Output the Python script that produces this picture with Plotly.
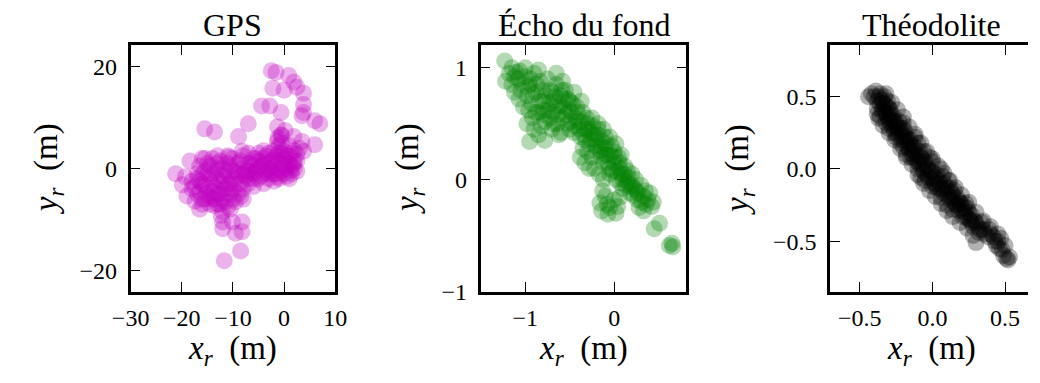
import plotly.graph_objects as go

# ---------------- data ----------------
titles = ["GPS", "Écho du fond", "Théodolite"]

gps_points = [
    (-2.5, 19.2), (-1.6, 18.9), (0.9, 18.3), (1.9, 17.0), (2.5, 16.0), (-2.2, 15.8),
    (0.0, 15.4), (3.8, 14.8), (-4.4, 12.3), (-2.8, 12.3), (-0.6, 11.0), (3.8, 12.6),
    (3.8, 11.0), (3.5, 10.4), (6.0, 9.4), (7.0, 8.8), (-7.0, 8.8), (-1.3, 8.2),
    (-15.5, 7.8), (-13.6, 7.2), (-8.9, 6.3), (-0.6, 6.6), (-1.3, 5.3), (1.9, 6.3),
    (3.5, 5.3), (6.0, 4.7), (3.8, 3.4), (2.5, 2.8), (-8.2, 3.4), (-10.8, 2.2),
    (-18.4, 1.5), (-21.2, -1.0), (-19.3, -1.6), (-19.9, -3.2), (-19.0, -5.4),
    (-17.4, -6.4), (-16.5, -8.0), (-13.6, -7.3), (-12.3, -9.2), (-12.0, -10.5),
    (-10.1, -10.5), (-8.2, -10.5), (-8.2, -12.4), (-9.5, -12.7), (-12.0, -11.8),
    (-8.5, -16.2), (-11.7, -18.1), (-1.3, -1.6), (1.3, -0.4), (1.9, 0.9), (2.5, 1.5),
    (-16, 2), (-15, 1), (-14, 2), (-13, 1), (-12, 0), (-11, 1), (-10, 2), (-9, 1),
    (-8, 0), (-7, 1), (-6, 2), (-5, 3), (-4, 2), (-3, 1), (-2, 2), (-1, 3), (0, 2),
    (1, 1), (2, 0), (-17, -2), (-16, -3), (-15, -4), (-14, -3), (-13, -2), (-12, -4),
    (-11, -3), (-10, -2), (-9, -3), (-8, -1), (-7, -2), (-6, -1), (-5, 0), (-4, -1),
    (-3, 0), (-2, -1), (-1, 0), (0, -1), (1, -2), (-18, -4), (-17, -5), (-16, -6),
    (-15, -5), (-14, -6), (-13, -5), (-12, -6), (-11, -5), (-10, -6), (-9, -5),
    (-8, -4), (-7, -3), (-6, -2), (-5, -2), (-4, -3), (-3, -2), (-2, -2.5), (-1, 1.5),
    (0, 0.5), (1, 2.5), (-14, -1), (-12, -1.5), (-10, -0.5), (-9, -1), (-13, -7),
    (-11, -7.5), (-15, -1), (-6, 0.5), (-4, 1), (-2, 0.5), (0, 3.5), (-1, 4.5),
    (-3, 3), (-8, 2.5), (-11, -1), (-13, 0), (-16, -1), (-0.5, 5.0), (-0.5, 6.5),
    (0.2, 7.5), (-1.2, 6.0), (1.0, 4.5), (2.0, 3.5), (3.0, 4.0), (1.5, -1.0),
    (2.5, -0.5), (-14, -4.5), (-12, -3), (-10, -4), (-7, -0.5), (-5, 1.5), (-3, -1),
    (-16.5, 0.5), (-15.5, -0.5), (-14.5, 0.5), (-13.5, -0.5), (-12.5, 1.5),
    (-11.5, -0.5), (-10.5, 0.5), (-9.5, -0.5), (-8.5, 1.5), (-7.5, -0.5), (-6.5, 1.0),
    (-5.5, 2.0), (-4.5, 0.5), (-3.5, 2.5), (-2.5, 1.5), (-1.5, 2.5), (-0.5, 1.0),
    (0.5, 2.5), (1.5, 0.5), (-16.5, -2.5), (-15.5, -3.5), (-14.5, -2.0),
    (-13.5, -3.5), (-12.5, -2.5), (-11.5, -4.0), (-10.5, -3.0), (-9.5, -2.0),
    (-8.5, -3.0), (-7.5, -1.5), (-6.5, -1.0), (-5.5, -0.5), (-4.5, -1.5), (-3.5, -0.5),
    (-2.5, -0.5), (-1.5, -1.0), (-0.5, -0.5), (0.5, 0.0), (-17.5, -3.5), (-16.5, -4.5),
    (-15.5, -6.0), (-14.5, -5.5), (-13.5, -6.0), (-12.5, -5.0), (-11.5, -6.5),
    (-10.5, -5.0), (-9.5, -6.5), (-8.5, -5.5), (-17, -1), (-18, -2.5), (-15.5, 2.0),
    (-13.0, 2.5), (-11, 2.5), (-7, 3), (-4, 3.5), (-2, 3.5), (-0.5, 3.0), (1.5, 3.0),
    (2, 1.5), (-12.5, -7), (-10.5, -8), (-14.5, -7.0), (-16, -7), (-1, -2), (0.5, -1.5),
    (-6, -3.5), (-8, -6), (-12, -8.5),
]

echo_points = [
    (-1.23, 1.06), (-1.15, 1.00), (-1.10, 0.96), (-1.22, 0.88), (-1.15, 0.85),
    (-1.08, 0.90), (-1.05, 0.80), (-1.00, 0.92), (-0.98, 0.75), (-0.95, 0.85),
    (-0.93, 0.68), (-0.90, 0.95), (-0.88, 0.78), (-0.85, 0.60), (-0.83, 0.88),
    (-0.80, 0.70), (-0.78, 0.52), (-0.75, 0.90), (-0.75, 0.62), (-0.72, 0.80),
    (-0.70, 0.45), (-0.68, 0.70), (-0.65, 0.85), (-0.63, 0.58), (-0.60, 0.75),
    (-0.60, 0.42), (-0.57, 0.65), (-0.55, 0.80), (-0.52, 0.50), (-0.50, 0.70),
    (-0.48, 0.60), (-0.45, 0.42), (-0.42, 0.65), (-0.40, 0.52), (-0.38, 0.38),
    (-0.35, 0.60), (-0.33, 0.45), (-0.30, 0.50), (-0.28, 0.32), (-0.25, 0.55),
    (-0.23, 0.40), (-0.20, 0.25), (-0.18, 0.45), (-0.15, 0.30), (-0.12, 0.15),
    (-0.10, 0.38), (-0.08, 0.22), (-0.05, 0.10), (-0.03, 0.30), (0.00, 0.15),
    (0.02, 0.00), (0.05, 0.20), (0.08, 0.05), (0.10, -0.08), (0.12, 0.12),
    (0.15, -0.02), (0.18, -0.12), (0.20, 0.05), (0.23, -0.08), (0.26, -0.18),
    (0.30, -0.05), (0.33, -0.15), (0.36, -0.22), (0.40, -0.12), (0.42, -0.24),
    (0.51, -0.39), (0.45, -0.44), (0.62, -0.59), (0.65, -0.57), (0.66, -0.60),
    (-0.16, -0.21), (-0.07, -0.31), (0.04, -0.24), (-0.10, -0.15), (0.00, -0.18),
    (-0.05, -0.25), (-0.95, 0.34), (-0.98, 0.50), (-0.85, 0.40), (-0.78, 0.35),
    (-0.62, 0.40), (-0.68, 0.50), (-1.12, 0.78), (-1.02, 0.65), (-0.92, 0.55),
    (-0.82, 0.48), (-0.72, 0.55), (-0.65, 0.65), (-0.58, 0.55), (-0.50, 0.45),
    (-0.43, 0.55), (-0.37, 0.70), (-0.32, 0.35), (-0.27, 0.42), (-0.20, 0.35),
    (-0.15, 0.20), (-0.10, 0.28), (-0.05, 0.05), (0.00, 0.25), (0.06, 0.10),
    (0.10, 0.00), (0.15, 0.08), (0.20, -0.05), (0.25, -0.10), (-0.22, 0.10),
    (-0.17, 0.05), (-0.12, 0.00), (0.28, -0.25), (0.33, -0.28), (-0.58, 0.88),
    (-0.45, 0.78), (-0.65, 0.95), (-0.85, 0.98), (-1.00, 1.00), (-0.52, 0.72),
    (-1.18, 0.95), (-1.12, 0.92), (-1.06, 0.97), (-1.04, 0.86), (-0.97, 0.83),
    (-0.94, 0.90), (-0.91, 0.76), (-0.87, 0.85), (-0.84, 0.70), (-0.81, 0.80),
    (-0.79, 0.62), (-0.77, 0.75), (-0.73, 0.68), (-0.70, 0.78), (-0.69, 0.60),
    (-0.66, 0.74), (-0.64, 0.50), (-0.61, 0.66), (-0.59, 0.80), (-0.56, 0.72),
    (-0.54, 0.58), (-0.51, 0.62), (-0.49, 0.52), (-0.47, 0.68), (-0.44, 0.48),
    (-0.41, 0.60), (-0.39, 0.45), (-0.36, 0.52), (-0.34, 0.40), (-0.31, 0.55),
    (-0.29, 0.45), (-0.26, 0.36), (-0.24, 0.48), (-0.21, 0.30), (-0.19, 0.40),
    (-0.16, 0.26), (-0.14, 0.35), (-0.11, 0.22), (-0.09, 0.32), (-0.07, 0.15),
    (-0.04, 0.22), (-0.02, 0.08), (0.01, 0.20), (0.03, 0.07), (0.06, 0.15),
    (0.07, -0.03), (0.11, 0.05), (0.13, -0.05), (0.16, 0.02), (0.18, -0.06),
    (0.22, -0.14), (0.24, 0.00), (0.27, -0.12), (0.31, -0.20), (0.35, -0.10),
    (0.38, -0.18), (0.44, -0.20), (-0.13, -0.10), (-0.08, -0.22), (0.02, -0.30),
    (0.06, -0.16), (-0.14, -0.28), (-0.88, 0.60), (-0.96, 0.62), (-1.07, 0.72),
    (-0.90, 0.45), (-0.80, 0.58), (-0.38, 0.20), (-0.33, 0.15), (-0.28, 0.10),
    (-0.25, 0.20), (-0.30, 0.25), (-0.35, 0.28), (-0.18, 0.50), (-0.12, 0.45),
    (-0.05, 0.38), (0.02, 0.32), (0.08, 0.22),
]

theo_points = [
    (-0.42, 0.52), (-0.39, 0.54), (-0.37, 0.50), (-0.35, 0.48), (-0.38, 0.42),
    (-0.36, 0.36), (-0.33, 0.45), (-0.32, 0.38), (-0.30, 0.42), (-0.30, 0.33),
    (-0.28, 0.35), (-0.27, 0.28), (-0.25, 0.32), (-0.24, 0.24), (-0.22, 0.28),
    (-0.21, 0.20), (-0.20, 0.32), (-0.18, 0.22), (-0.17, 0.15), (-0.15, 0.20),
    (-0.14, 0.10), (-0.12, 0.15), (-0.11, 0.05), (-0.10, 0.18), (-0.08, 0.08),
    (-0.07, 0.00), (-0.05, 0.05), (-0.04, -0.04), (-0.02, 0.08), (0.00, -0.02),
    (0.01, -0.10), (0.03, -0.04), (0.05, -0.14), (0.06, 0.00), (0.08, -0.10),
    (0.10, -0.18), (0.11, -0.08), (0.13, -0.20), (0.15, -0.15), (0.16, -0.25),
    (0.18, -0.22), (0.20, -0.28), (0.22, -0.30), (0.24, -0.27), (0.26, -0.35),
    (0.28, -0.40), (0.30, -0.37), (0.32, -0.44), (0.30, -0.51), (0.35, -0.42),
    (0.39, -0.42), (0.42, -0.47), (0.45, -0.50), (0.47, -0.48), (0.50, -0.53),
    (0.51, -0.62), (0.52, -0.63), (0.48, -0.56), (-0.34, 0.42), (-0.31, 0.47),
    (-0.29, 0.38), (-0.26, 0.30), (-0.23, 0.33), (-0.19, 0.26), (-0.16, 0.18),
    (-0.13, 0.12), (-0.09, 0.12), (-0.06, 0.02), (-0.03, 0.00), (0.02, -0.06),
    (0.04, -0.08), (0.07, -0.05), (0.09, -0.14), (0.12, -0.13), (0.14, -0.18),
    (0.17, -0.20), (0.19, -0.24), (0.23, -0.24), (0.21, -0.33), (-0.25, 0.22),
    (-0.20, 0.15), (-0.15, 0.08), (-0.10, 0.00), (-0.05, -0.08), (0.00, -0.12),
    (-0.28, 0.30), (-0.32, 0.32), (-0.35, 0.40), (-0.22, 0.18), (-0.12, 0.22),
    (-0.06, 0.12), (0.00, 0.05), (0.06, -0.20), (0.10, -0.25), (0.14, -0.28),
    (0.25, -0.30), (0.27, -0.32), (0.34, -0.37), (-0.36, 0.45), (-0.33, 0.50),
    (-0.30, 0.28), (-0.18, 0.10), (-0.08, -0.06), (-0.40, 0.50), (-0.38, 0.47),
    (-0.36, 0.52), (-0.34, 0.46), (-0.33, 0.40), (-0.31, 0.43), (-0.29, 0.41),
    (-0.29, 0.34), (-0.27, 0.37), (-0.26, 0.33), (-0.24, 0.29), (-0.23, 0.26),
    (-0.21, 0.25), (-0.20, 0.22), (-0.19, 0.19), (-0.17, 0.20), (-0.16, 0.14),
    (-0.14, 0.16), (-0.13, 0.08), (-0.11, 0.10), (-0.10, 0.06), (-0.09, 0.04),
    (-0.07, 0.07), (-0.06, -0.02), (-0.04, 0.02), (-0.03, -0.06), (-0.01, -0.02),
    (0.00, -0.07), (0.02, -0.10), (0.03, -0.13), (0.05, -0.10), (0.07, -0.14),
    (0.08, -0.17), (0.10, -0.13), (0.12, -0.21), (0.13, -0.16), (0.15, -0.23),
    (0.17, -0.25), (0.18, -0.29), (0.20, -0.24), (0.22, -0.27), (0.23, -0.33),
    (0.25, -0.35), (0.27, -0.37), (0.29, -0.36), (0.31, -0.40), (0.33, -0.42),
    (0.36, -0.45), (0.38, -0.47), (0.40, -0.45), (0.43, -0.50), (0.44, -0.53),
    (0.46, -0.55), (0.49, -0.60), (0.53, -0.61), (-0.44, 0.50), (-0.37, 0.35),
    (-0.26, 0.25), (-0.20, 0.28), (-0.31, 0.36),
    (-0.38, 0.38), (-0.34, 0.30), (-0.30, 0.25), (-0.26, 0.20), (-0.22, 0.14),
    (-0.18, 0.08), (-0.14, 0.03), (-0.10, -0.04), (-0.06, -0.10), (-0.02, -0.15),
    (0.02, -0.19), (0.06, -0.24), (0.10, -0.29), (0.14, -0.33), (0.19, -0.37),
    (0.24, -0.41), (0.28, -0.46), (-0.32, 0.52), (-0.28, 0.46), (-0.24, 0.41),
    (-0.20, 0.36), (-0.16, 0.29), (-0.12, 0.24), (-0.08, 0.18), (-0.04, 0.12),
    (0.00, 0.07), (0.04, 0.02), (0.08, -0.03), (0.12, -0.08), (0.16, -0.13),
    (0.20, -0.18), (0.25, -0.23), (0.30, -0.30), (0.35, -0.36), (0.40, -0.40),
    (0.45, -0.45),
]

gps_x = [p[0] for p in gps_points]
gps_y = [p[1] for p in gps_points]
echo_x = [p[0] for p in echo_points]
echo_y = [p[1] for p in echo_points]
theo_x = [p[0] for p in theo_points]
theo_y = [p[1] for p in theo_points]

x_ticks = [[-30, -20, -10, 0, 10], [-1, 0], [-0.5, 0.0, 0.5]]
y_ticks = [[-20, 0, 20], [-1, 0, 1], [-0.5, 0.0, 0.5]]
x_ranges = [[-30.01, 10.01], [-1.502, 0.813], [-0.705, 0.658]]
y_ranges = [[-24.2, 24.2], [-1.003, 1.2], [-0.85, 0.855]]
tick_formats = ["d", "d", ".1f"]
colors = ["rgb(191,0,191)", "rgb(0,128,0)", "rgb(0,0,0)"]

# ---------------- figure ----------------
W, H = 1040, 383
FONT = "Times New Roman, Liberation Serif, DejaVu Serif, serif"

fig = go.Figure()
series = [(gps_x, gps_y), (echo_x, echo_y), (theo_x, theo_y)]
for i, (xs, ys) in enumerate(series):
    sfx = "" if i == 0 else str(i + 1)
    fig.add_trace(go.Scatter(
        x=xs, y=ys, mode="markers", xaxis="x" + sfx, yaxis="y" + sfx,
        marker=dict(size=17, color=colors[i], opacity=0.3, line=dict(width=0)),
        showlegend=False, hoverinfo="skip",
    ))

x_domains_px = [(115, 326), (475.7, 688), (836, 1040)]
y_domain = [(H - 302) / H, (H - 47) / H]

axis_common = dict(
    showgrid=False, zeroline=False, showline=True, linecolor="black", linewidth=2.5,
    ticks="inside", ticklen=10, tickwidth=1.2, tickcolor="black",
    tickfont=dict(family=FONT, size=24, color="black"),
)

layout = dict(
    width=W, height=H, margin=dict(l=0, r=0, t=0, b=0),
    paper_bgcolor="white", plot_bgcolor="white",
    font=dict(family=FONT, color="black"),
)

for i in range(3):
    sfx = "" if i == 0 else str(i + 1)
    xd = [x_domains_px[i][0] / W, x_domains_px[i][1] / W]
    layout["xaxis" + sfx] = dict(
        axis_common, domain=xd, range=x_ranges[i], tickvals=x_ticks[i],
        tickformat=tick_formats[i], mirror="ticks", anchor="y" + sfx,
        ticklabelstandoff=3,
    )
    layout["yaxis" + sfx] = dict(
        axis_common, domain=y_domain, range=y_ranges[i], tickvals=y_ticks[i],
        tickformat=tick_formats[i], mirror=("ticks" if i < 2 else False),
        anchor="x" + sfx, ticklabelstandoff=6,
    )

# right-hand ticks of the third panel (its right spine lies just outside the image)
layout["yaxis4"] = dict(
    overlaying="y3", side="right", anchor="x3", matches="y3",
    range=y_ranges[2], tickvals=y_ticks[2], showticklabels=False,
    showgrid=False, zeroline=False, showline=False,
    ticks="inside", ticklen=4, tickwidth=1.2, tickcolor="black",
)

fig.update_layout(**layout)

LABEL_X = "<i>x</i><sub><i>r</i></sub>&nbsp; (m)"
LABEL_Y = "<i>y</i><sub><i>r</i></sub>&nbsp; (m)"

annotations = []
for i in range(3):
    cx = (x_domains_px[i][0] + x_domains_px[i][1]) / 2 / W
    if i == 2:
        cx = (836 + 1046) / 2 / W
    annotations.append(dict(
        text=titles[i], x=cx, y=1 - 26 / H, xref="paper", yref="paper",
        xanchor="center", yanchor="middle", showarrow=False,
        font=dict(family=FONT, size=32, color="black"),
    ))
    annotations.append(dict(
        text=LABEL_X, x=cx, y=1 - 363 / H,
        xref="paper", yref="paper", xanchor="center", yanchor="middle",
        showarrow=False, font=dict(family=FONT, size=33, color="black"),
    ))
ylab_x = [30, 402, 742]
for i in range(3):
    annotations.append(dict(
        text=LABEL_Y, x=ylab_x[i] / W, y=1 - 175 / H,
        xref="paper", yref="paper", xanchor="center", yanchor="middle",
        textangle=-90, showarrow=False,
        font=dict(family=FONT, size=33, color="black"),
    ))
fig.update_layout(annotations=annotations)

fig.write_html("out.html")
